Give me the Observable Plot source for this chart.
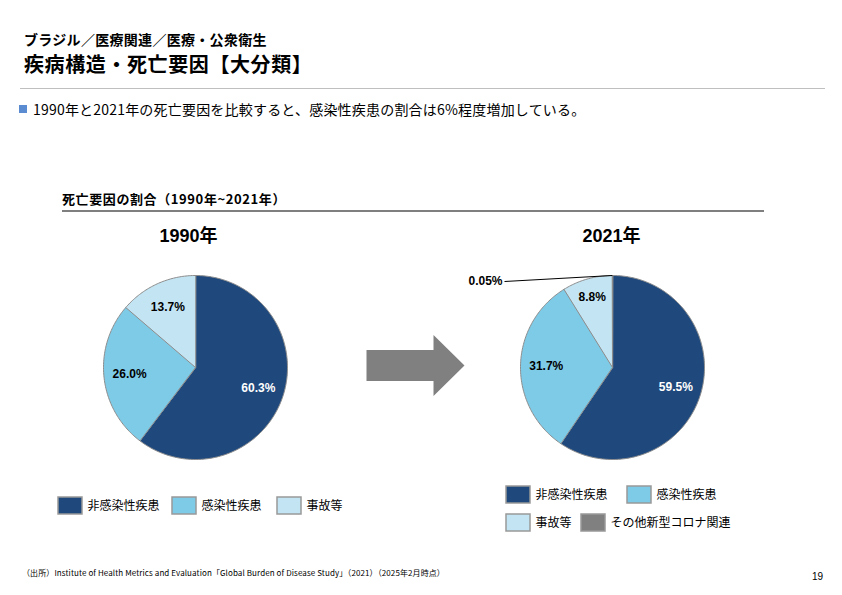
<!DOCTYPE html>
<html><head><meta charset="utf-8">
<script src="https://cdn.jsdelivr.net/npm/d3@7"></script>
<script src="https://cdn.jsdelivr.net/npm/@observablehq/plot@0.6"></script>
<style>
html,body{margin:0;padding:0;background:#fff;}
body{width:842px;height:595px;position:relative;overflow:hidden;font-family:"Liberation Sans","Noto Sans CJK JP",sans-serif;}
.t{position:absolute;white-space:nowrap;line-height:1;color:#000;z-index:2;}
#chart{position:absolute;left:0;top:0;z-index:1;}
</style></head>
<body>
<div class="t" style="left:24px;top:32px;font-size:14px;font-weight:bold;letter-spacing:0.3px;font-family:'Noto Sans CJK JP',sans-serif;">ブラジル／医療関連／医療・公衆衛生</div>
<div class="t" style="left:24px;top:54px;font-size:20px;font-weight:bold;letter-spacing:0.6px;font-family:'Noto Sans CJK JP',sans-serif;">疾病構造・死亡要因【大分類】</div>
<div style="position:absolute;left:20px;top:88px;width:805px;height:1px;background:#bfbfbf;"></div>
<div style="position:absolute;left:19px;top:105px;width:8px;height:8px;background:#5b8bd0;"></div>
<div class="t" id="bullet" style="left:33px;top:102px;font-size:14px;letter-spacing:0.2px;font-family:'Noto Sans CJK JP',sans-serif;">1990年と2021年の死亡要因を比較すると、感染性疾患の割合は6%程度増加している。</div>
<div class="t" style="left:62px;top:192px;font-size:13px;font-weight:bold;letter-spacing:0.6px;font-family:'Noto Sans CJK JP',sans-serif;">死亡要因の割合（1990年~2021年）</div>
<div style="position:absolute;left:62px;top:210px;width:702px;height:2px;background:#7f7f7f;"></div>
<div class="t" style="left:22px;top:569px;font-size:8px;letter-spacing:0.1px;font-family:'Liberation Sans Narrow','Noto Sans CJK JP',sans-serif;">（出所）Institute of Health Metrics and Evaluation「Global Burden of Disease Study」（2021）（2025年2月時点）</div>
<div class="t" style="left:812px;top:572px;font-size:10px;font-family:'Liberation Sans Narrow','Liberation Sans',sans-serif;">19</div>
<div id="chart"></div>
<script>
// ---- data ----
const categories = ["非感染性疾患", "感染性疾患", "事故等", "その他新型コロナ関連"];
const colors = ["#1f497d", "#7ecbe8", "#c3e5f3", "#808080"];
const years = ["1990年", "2021年"];
const values1990 = [60.3, 26.0, 13.7];
const values2021 = [59.5, 31.7, 8.8, 0.05];
const legend1990 = ["非感染性疾患", "感染性疾患", "事故等"];
const legend2021 = ["非感染性疾患", "感染性疾患", "事故等", "その他新型コロナ関連"];

// ---- layout ----
const W = 842, H = 595;
const pieCenters = [[195, 367], [612, 367]];
const R = 92;
const labelFactor = 0.72;
const yearTitlePos = [[188, 236], [611, 236]];
const legendPos1990 = [[58, 497], [172, 497], [277, 497]];
const legendPos2021 = [[506, 486], [627, 486], [506, 514], [581, 514]];
const boxW = 24, boxH = 17;
const arrow = {x0: 366, xh: 433, tip: 464, cy: 365, shaft: 15.5, head: 30.5};
const smallLabelPos = [502, 281];

const series = [values1990, values2021];
const slices = [], labels = [], smallLabels = [];
series.forEach((vals, yi) => {
  const data = vals.map((v, i) => ({cat: categories[i], value: v}));
  const arcs = d3.pie().sort(null).value(d => d.value)(data);
  const [cx, cy] = pieCenters[yi];
  arcs.forEach((a, i) => {
    const id = yi + "-" + i;
    slices.push({id, cat: a.data.cat, x: cx, y: cy});
    const n = Math.max(2, Math.ceil((a.endAngle - a.startAngle) / (Math.PI / 180)) + 1);
    for (let k = 0; k < n; k++) {
      const t = a.startAngle + (a.endAngle - a.startAngle) * k / (n - 1);
      slices.push({id, cat: a.data.cat, x: cx + R * Math.sin(t), y: cy - R * Math.cos(t)});
    }
    const mid = (a.startAngle + a.endAngle) / 2;
    const txt = (a.data.value < 1 ? a.data.value.toFixed(2) : a.data.value.toFixed(1)) + "%";
    // narrow slices get their label pushed slightly outward
    const f = a.data.value < 10 ? 0.8 : labelFactor;
    if (a.data.value < 1) {
      smallLabels.push({text: txt, x: smallLabelPos[0], y: smallLabelPos[1],
        ex: cx + R * Math.sin(mid), ey: cy - R * Math.cos(mid)});
    } else {
      labels.push({text: txt, cat: a.data.cat,
        x: cx + R * f * Math.sin(mid), y: cy - R * f * Math.cos(mid)});
    }
  });
});

const arrowPts = [
  [arrow.x0, arrow.cy - arrow.shaft], [arrow.xh, arrow.cy - arrow.shaft], [arrow.xh, arrow.cy - arrow.head],
  [arrow.tip, arrow.cy], [arrow.xh, arrow.cy + arrow.head], [arrow.xh, arrow.cy + arrow.shaft],
  [arrow.x0, arrow.cy + arrow.shaft]
].map(([x, y]) => ({x, y}));

const legendItems = [
  ...legend1990.map((c, i) => ({cat: c, x: legendPos1990[i][0], y: legendPos1990[i][1]})),
  ...legend2021.map((c, i) => ({cat: c, x: legendPos2021[i][0], y: legendPos2021[i][1]}))
];
const yearTitles = years.map((t, i) => ({text: t, x: yearTitlePos[i][0], y: yearTitlePos[i][1]}));

const font = "'Liberation Sans','Noto Sans CJK JP',sans-serif";
const chart = Plot.plot({
  width: W, height: H,
  margin: 0,
  x: {domain: [0, W], range: [0, W], axis: null},
  y: {domain: [0, H], range: [0, H], axis: null},
  color: {domain: categories, range: colors},
  style: {fontFamily: font, background: "transparent", overflow: "visible"},
  marks: [
    Plot.line(slices, {x: "x", y: "y", z: "id", fill: "cat", stroke: "#8c8c8c", strokeWidth: 1, curve: "linear-closed"}),
    Plot.line(arrowPts, {x: "x", y: "y", fill: "#808080", stroke: "none", curve: "linear-closed"}),
    Plot.text(labels.filter(d => d.cat === categories[0]), {x: "x", y: "y", text: "text", fill: "white", fontWeight: "bold", fontSize: 12}),
    Plot.text(labels.filter(d => d.cat !== categories[0]), {x: "x", y: "y", text: "text", fill: "black", fontWeight: "bold", fontSize: 12}),
    Plot.link(smallLabels, {x1: d => d.x + 2, y1: "y", x2: "ex", y2: "ey", stroke: "black", strokeWidth: 1}),
    Plot.text(smallLabels, {x: "x", y: "y", text: "text", textAnchor: "end", fill: "black", fontWeight: "bold", fontSize: 12}),
    Plot.text(yearTitles, {x: "x", y: "y", text: "text", fontWeight: "bold", fontSize: 18, fill: "black", fontFamily: "'Liberation Sans','Noto Sans CJK JP',sans-serif"}),
    Plot.rect(legendItems, {x1: "x", x2: d => d.x + boxW, y1: "y", y2: d => d.y + boxH, fill: "cat", stroke: "#999999", strokeWidth: 1.5}),
    Plot.text(legendItems, {x: d => d.x + boxW + 5, y: d => d.y + boxH / 2, text: "cat", textAnchor: "start", fontSize: 12, fill: "black", fontFamily: "'Noto Sans CJK JP',sans-serif"})
  ]
});
document.getElementById("chart").appendChild(chart);
</script>
</body></html>
